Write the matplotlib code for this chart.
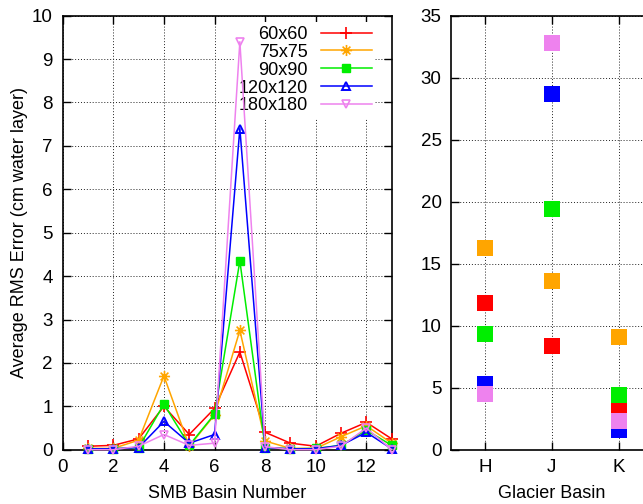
import matplotlib
matplotlib.use("Agg")
import matplotlib.pyplot as plt
from matplotlib.path import Path

plt.rcParams['font.family'] = ['Liberation Sans', 'DejaVu Sans']

basins = list(range(1, 14))
labels = ['60x60', '75x75', '90x90', '120x120', '180x180']
colors = ['#ff0000', '#ffa500', '#00ee00', '#0000ff', '#ee82ee']

rms_60 = [0.08, 0.10, 0.25, 1.00, 0.35, 0.95, 2.25, 0.40, 0.15, 0.08, 0.38, 0.63, 0.25]
rms_75 = [0.03, 0.03, 0.22, 1.70, 0.08, 0.80, 2.75, 0.20, 0.03, 0.03, 0.30, 0.55, 0.15]
rms_90 = [0.02, 0.02, 0.05, 1.05, 0.10, 0.82, 4.35, 0.05, 0.02, 0.03, 0.10, 0.45, 0.10]
rms_120 = [0.02, 0.02, 0.05, 0.65, 0.15, 0.35, 7.40, 0.05, 0.02, 0.02, 0.10, 0.40, 0.02]
rms_180 = [0.00, 0.00, 0.08, 0.35, 0.10, 0.15, 9.40, 0.07, 0.00, 0.00, 0.08, 0.50, 0.00]

glaciers = ['H', 'J', 'K']
glac_60 = [11.8, 8.4, 3.5]
glac_75 = [16.3, 13.6, 9.1]
glac_90 = [9.3, 19.4, 4.4]
glac_120 = [5.3, 28.7, 1.6]
glac_180 = [4.5, 32.8, 2.3]

series = [rms_60, rms_75, rms_90, rms_120, rms_180]
gseries = [glac_60, glac_75, glac_90, glac_120, glac_180]

# gnuplot style asterisk: a plus and a cross together
asterisk = Path([(-1, 0), (1, 0), (0, -1), (0, 1),
                 (-0.7, -0.7), (0.7, 0.7), (-0.7, 0.7), (0.7, -0.7)],
                [Path.MOVETO, Path.LINETO] * 4)

markers = [dict(marker='+', ms=8, mew=1.2),
           dict(marker=asterisk, ms=8, mew=1.2),
           dict(marker='s', ms=6),
           dict(marker='^', ms=6, mfc='none', mew=1.4),
           dict(marker='v', ms=6, mfc='none', mew=1.2)]

fig = plt.figure(figsize=(6.43, 5.04), dpi=100)
W, H = 643.0, 504.0
ax1 = fig.add_axes([62.7 / W, (H - 449.7) / H, 329.0 / W, 434.0 / H])
ax2 = fig.add_axes([451.3 / W, (H - 449.7) / H, 201.0 / W, 434.0 / H])

grid_kw = dict(color='#222222', linestyle=(0, (1, 2)), linewidth=0.7)

for vals, lab, col, mk in zip(series, labels, colors, markers):
    ax1.plot(basins, vals, color=col, lw=1.1, label=lab, clip_on=False, zorder=3, **mk)

ax1.set_xlim(0, 13)
ax1.set_ylim(0, 10)
ax1.set_xticks(range(0, 13, 2))
ax1.set_yticks(range(0, 11))
ax1.grid(True, **grid_kw)
ax1.set_axisbelow(True)
ax1.set_xlabel('SMB Basin Number', fontsize=13, labelpad=6)
ax1.set_ylabel('Average RMS Error (cm water layer)', fontsize=13, labelpad=3)
leg = ax1.legend(loc='upper right', bbox_to_anchor=(0.95, 0.985), markerfirst=False,
                 fontsize=13, frameon=True, handlelength=2.8, handletextpad=0.75,
                 labelspacing=0.05, borderaxespad=0.0, borderpad=0.2)
leg.get_frame().set_facecolor('white')
leg.get_frame().set_edgecolor('none')
leg.get_frame().set_alpha(1.0)
leg.set_zorder(2)
for t in leg.get_texts():
    t.set_ha('right')
leg._legend_box.align = 'right'

for vals, col in zip(gseries, colors):
    ax2.plot([1, 2, 3], vals, linestyle='none', marker='s', ms=12,
             color=col, mew=0, clip_on=False)

ax2.set_xlim(0.5, 3.5)
ax2.set_ylim(0, 35)
ax2.set_xticks([1, 2, 3])
ax2.set_xticklabels(glaciers)
ax2.set_yticks(range(0, 36, 5))
ax2.grid(True, **grid_kw)
ax2.set_axisbelow(True)
ax2.set_xlabel('Glacier Basin', fontsize=13, labelpad=6)

for ax in (ax1, ax2):
    ax.tick_params(direction='in', length=6, width=1, labelsize=13.5,
                   top=True, right=True, pad=7)
    for s in ax.spines.values():
        s.set_linewidth(1.2)

fig.savefig('out.png', dpi=100)
